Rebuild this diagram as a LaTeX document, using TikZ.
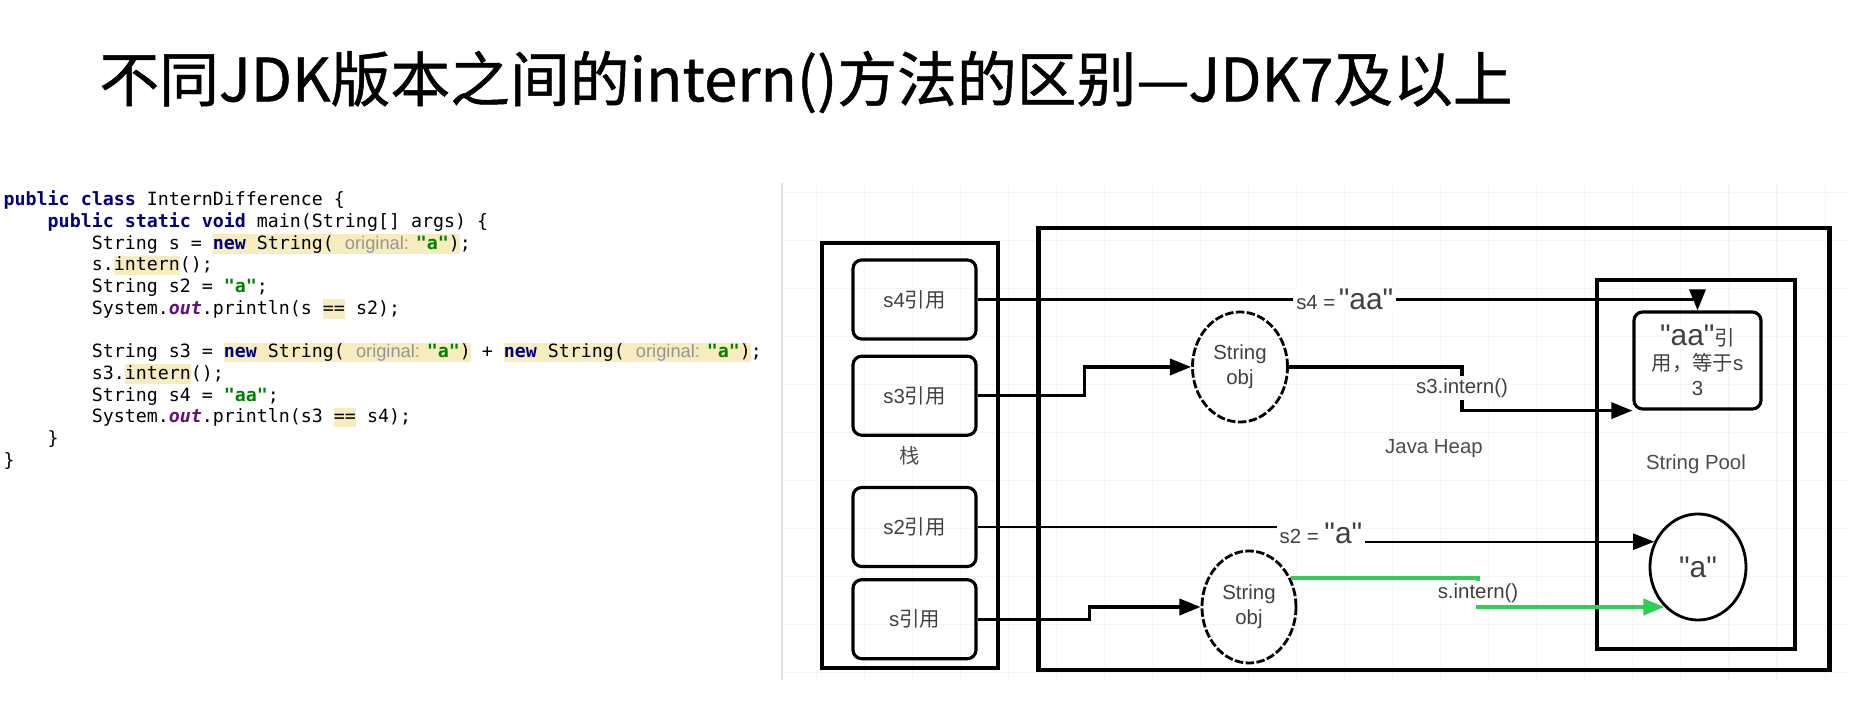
\documentclass[tikz,border=0pt]{standalone}
\usepackage{fontspec}
\newfontfamily\diagfont{Liberation Sans}
\newfontfamily\cjkfont{Noto Sans CJK SC}
\newfontfamily\titlefont{Noto Sans CJK SC}[FakeBold=0.8]
\newfontfamily\codefont{DejaVu Sans Mono}
\newfontfamily\hintfont{Liberation Sans}
\usetikzlibrary{arrows.meta,positioning,calc,shapes.geometric}

\definecolor{kwblue}{RGB}{0,0,128}
\definecolor{strgreen}{RGB}{0,128,0}
\definecolor{hintgray}{RGB}{150,150,150}
\definecolor{outpurple}{RGB}{102,14,122}
\definecolor{hlyellow}{RGB}{247,236,190}
\definecolor{ingreen}{RGB}{50,205,85}

\newcommand\q{\symbol{34}}
\newcommand\kw[1]{{\color{kwblue}\bfseries #1}}
\newcommand\jstr[1]{{\color{strgreen}\bfseries\q#1\q}}
\newcommand\hint[1]{{\hintfont\color{hintgray}#1}}
\newcommand\outf[1]{{\color{outpurple}\bfseries\itshape #1}}
\newcommand\hilite[1]{{\setlength{\fboxsep}{0pt}\colorbox{hlyellow}{\rule[-1.3pt]{0pt}{5.6pt}#1}}}
\newcommand\tab{\phantom{0000}}
\newcommand\zh[1]{{\cjkfont #1}}
\newcommand\bigq[1]{{\fontsize{8.5pt}{9pt}\selectfont\q#1\q}}

\begin{document}
\begin{tikzpicture}[
  x=0.01cm, y=-0.01cm,
  font=\diagfont\fontsize{5.8pt}{7pt}\selectfont,
  refbox/.style={draw, rounded corners=2.5pt, line width=0.9pt, minimum width=1.23cm, minimum height=0.79cm, text=black!75},
  area/.style={draw, line width=1pt, text=black!70},
  obj/.style={draw, ellipse, line width=0.8pt, dash pattern=on 2.4pt off 0.7pt, minimum width=0.95cm, minimum height=1.1cm, inner sep=0pt, align=center, text=black!75},
  conn/.style={-{Triangle[length=6pt,width=4.6pt]}, line width=0.9pt},
  thinconn/.style={-{Triangle[length=6pt,width=4.6pt]}, line width=0.5pt},
  okconn/.style={-{Triangle[length=6pt,width=4.6pt]}, line width=1pt, draw=ingreen},
  lbl/.style={fill=white, inner sep=0.8pt, text=black!75}
]
\useasboundingbox (0,0) rectangle (1862,728);

\node[font=\titlefont\fontsize{17pt}{20pt}\selectfont] (title) at (806,82)
  {不同JDK版本之间的intern()方法的区别—JDK7及以上};

% source code on the left
\node[anchor=north west, inner sep=0pt, align=left, font=\codefont\fontsize{5.2pt}{6.18pt}\selectfont] (code) at (3,190) {
\kw{public} \kw{class} InternDifference \{\\
\tab\kw{public} \kw{static} \kw{void} main(String[] args) \{\\
\tab\tab String s = \hilite{\kw{new} String( \hint{original: }\jstr{a})};\\
\tab\tab s.\hilite{intern}();\\
\tab\tab String s2 = \jstr{a};\\
\tab\tab System.\outf{out}.println(s \hilite{==} s2);\\
\mbox{}\\
\tab\tab String s3 = \hilite{\kw{new} String( \hint{original: }\jstr{a})} + \hilite{\kw{new} String( \hint{original: }\jstr{a})};\\
\tab\tab s3.\hilite{intern}();\\
\tab\tab String s4 = \jstr{aa};\\
\tab\tab System.\outf{out}.println(s3 \hilite{==} s4);\\
\tab\}\\
\}};

% canvas
\draw[black!4, line width=0.3pt, xstep=0.48cm, ystep=0.48cm] (782,183) grid (1850,680);
\draw[black!12, line width=0.4pt] (782,183) -- (782,680);

\node[area, line width=1.3pt, minimum width=7.9cm, minimum height=4.42cm] (heap) at (1434,449) {Java Heap};
\node[area, line width=1.1pt, minimum width=1.98cm, minimum height=3.69cm] (pool) at (1696,464.5) {String Pool};
\node[area, minimum width=1.755cm, minimum height=4.25cm] (stack) at (910,455.5) {\zh{栈}};

\node[refbox] (s4) at (914.5,299.5) {s4\zh{引用}};
\node[refbox, below=0.14cm of s4] (s3) {s3\zh{引用}};
\node[refbox] (s2) at (914.5,527) {s2\zh{引用}};
\node[refbox, below=0.1cm of s2] (s) {s\zh{引用}};

\node[obj] (obj1) at (1240,367) {String\\obj};
\node[obj, minimum width=0.94cm, minimum height=1.12cm] (obj2) at (1249,607) {String\\obj};
\node[obj, solid, minimum width=0.96cm, minimum height=1.06cm] (objA) at (1698,567) {\bigq{a}};
\node[refbox, minimum width=1.27cm, minimum height=0.97cm, align=center, font=\diagfont\fontsize{5.8pt}{7.1pt}\selectfont] (aa) at (1697.5,360.5)
  {\bigq{aa}\zh{引}\\\zh{用，等于}s\\3};

\coordinate (bend3) at (1462,388);
\coordinate (bend2) at (1321,533);
\coordinate (bends) at (1478,593);

\draw[conn] (s4.east) -- (s4.east -| aa.north) node[lbl, pos=0.51] (s4lbl) {s4 =\,\bigq{aa}} -- (aa.north);
\draw[conn] (s3.east) -| ($(s3.east)!.5!(obj1.west)$) |- (obj1.west);
\draw[conn] (s.east) -| ($(s.east)!.5!(obj2.west)$) |- (obj2.west);
\draw[conn] (obj1.east) -| (bend3) node[lbl] (int3) {s3.intern()} |- (aa.south west);
\draw[thinconn] (s2.east) -| (bend2) node[lbl] (s2lbl) {s2 = \bigq{a}} |- (objA.150);
\draw[okconn] (obj2.35) -| (bends) node[lbl] (sint) {s.intern()} |- (objA.230);

\end{tikzpicture}
\end{document}
